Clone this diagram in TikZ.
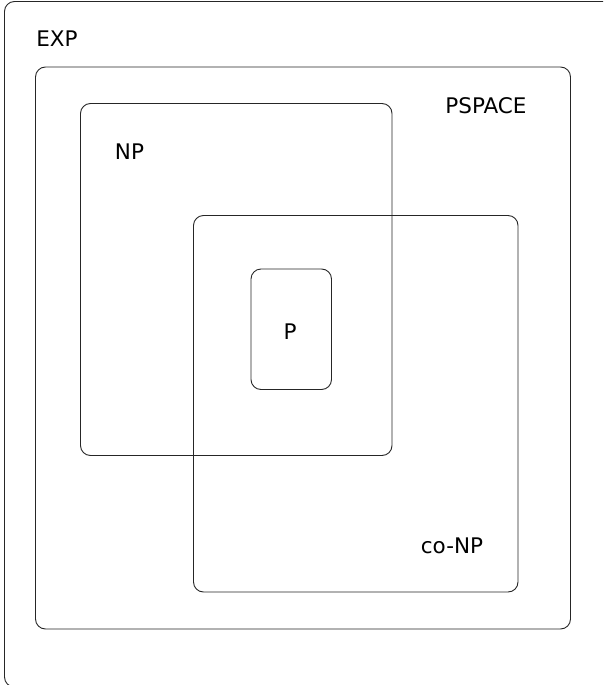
\documentclass[tikz,border=0pt]{standalone}
\usepackage{fontspec}
\setmainfont{DejaVu Sans}
\begin{document}
\begin{tikzpicture}[x=1pt,y=-1pt,
  setbox/.style={draw=black!85, line width=0.9pt, rounded corners=10pt},
  lbl/.style={inner sep=0pt, anchor=base, font=\fontsize{21.5}{26}\selectfont}]
\useasboundingbox (0,0) rectangle (603,685);
\begin{scope}
\clip (0,0) rectangle (603,685);
\draw[setbox] (4.5,1.5) rectangle (620,687);
\end{scope}
\draw[setbox] (35.5,67) rectangle (570.5,629);
\draw[setbox] (80.5,103.5) rectangle (392,455.5);
\draw[setbox] (193.5,215.5) rectangle (518,592);
\draw[setbox] (251,269) rectangle (331.5,389.5);
\node[lbl] (exp) at (57,47) {EXP};
\node[lbl] (pspace) at (486,113.5) {PSPACE};
\node[lbl] (np) at (129.5,159) {NP};
\node[lbl] (conp) at (452,553.5) {co-NP};
\node[lbl] (p) at (290,339.5) {P};
\end{tikzpicture}
\end{document}
